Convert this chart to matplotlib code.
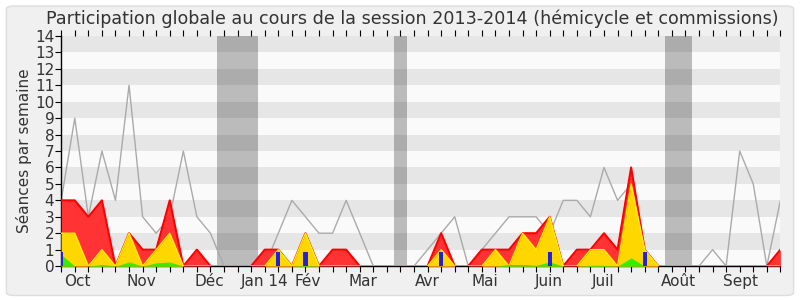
import numpy as np
import matplotlib.pyplot as plt
from matplotlib.patches import FancyBboxPatch

# semaines de la session (0 = début octobre 2013)
semaines = np.arange(54)

# séances totales de la semaine (ligne grise)
seances_total = [4, 9, 3, 7, 4, 11, 3, 2, 3, 7, 3, 2, 0, 0, 0, 0, 2, 4, 3, 2,
                 2, 4, 2, 0, 0, 0, 0, 1, 2, 3, 0, 1, 2, 3, 3, 3, 2, 4, 4, 3,
                 6, 4, 5, 0, 0, 0, 0, 0, 1, 0, 7, 5, 0, 4]
# présences (rouge), interventions (jaune), interventions longues (vert)
presences = [4, 4, 3, 4, 0, 2, 1, 1, 4, 0, 1, 0, 0, 0, 0, 1, 1, 0, 2, 0,
             1, 1, 0, 0, 0, 0, 0, 0, 2, 0, 0, 1, 1, 1, 2, 2, 3, 0, 1, 1,
             2, 1, 6, 1, 0, 0, 0, 0, 0, 0, 0, 0, 0, 1]
interventions = [2, 2, 0, 1, 0, 2, 0, 1, 2, 0, 0, 0, 0, 0, 0, 0, 1, 0, 2, 0,
                 0, 0, 0, 0, 0, 0, 0, 0, 1, 0, 0, 0, 1, 0, 2, 1, 3, 0, 0, 1,
                 1, 0, 5, 1, 0, 0, 0, 0, 0, 0, 0, 0, 0, 0]
longues = [0.7, 0, 0, 0.1, 0, 0.25, 0, 0.2, 0.25, 0, 0, 0, 0, 0, 0, 0, 0, 0, 0.05, 0,
           0, 0, 0, 0, 0, 0, 0, 0, 0, 0, 0, 0, 0, 0.1, 0.1, 0.05, 0.25, 0, 0, 0.05,
           0.05, 0, 0.5, 0, 0, 0, 0, 0, 0, 0, 0, 0, 0, 0]
# questions orales (barres bleues)
questions_sem = [0, 16, 18, 28, 36, 43]
questions_val = [0.87, 0.87, 0.87, 0.87, 0.87, 0.87]

# vacances parlementaires (début, fin en semaines)
vacances = [(11.5, 14.5), (24.5, 25.5), (44.5, 46.5)]

mois_pos = [1.2, 5.9, 10.9, 15.0, 18.2, 22.2, 27.0, 31.2, 35.9, 39.9, 45.5, 50.05]
mois_lab = ["Oct", "Nov", "Déc", "Jan 14", "Fév", "Mar", "Avr", "Mai", "Juin",
            "Juil", "Août", "Sept"]

fig = plt.figure(figsize=(8, 3), dpi=100)
fig.patch.set_facecolor("#ffffff")
fig.patches.append(FancyBboxPatch((0.008, 0.015), 0.984, 0.965, boxstyle="round,pad=0,rounding_size=0.01",
                                  transform=fig.transFigure, facecolor="#f0f0f0",
                                  edgecolor="#dddddd", lw=1, zorder=-10))

ax = fig.add_axes([0.0765, 0.113, 0.899, 0.767])
ax.set_facecolor("#fafafa")

# bandes horizontales
for y in range(1, 14, 2):
    ax.axhspan(y, y + 1, color="#e6e6e6", lw=0, zorder=0)
for a, b in vacances:
    ax.axvspan(a, b, color="black", alpha=0.25, lw=0, zorder=1)

ax.plot(semaines, seances_total, color="#aaaaaa", lw=1, zorder=2)

ax.fill_between(semaines, presences, color="#ff3333", lw=0, zorder=3)
ax.plot(semaines, presences, color="#ff0000", lw=1.5, zorder=3)
ax.fill_between(semaines, interventions, color="#ffd700", lw=0, zorder=4)
ax.plot(semaines, interventions, color="#ffee00", lw=1, zorder=4)
ax.fill_between(semaines, longues, color="#33ee00", lw=0, zorder=5)
ax.bar(questions_sem, questions_val, width=0.32, color="#2222dd", zorder=6)

ax.set_xlim(0, 53)
ax.set_ylim(0, 14)
ax.set_yticks(range(15))
ax.set_xticks(semaines, [""] * len(semaines))
ax.tick_params(axis="x", direction="out", length=4, width=0.8, top=True, labeltop=False)
ax.tick_params(axis="y", length=4, width=0.8, labelsize=11, colors="#333333", pad=1)
ax.tick_params(axis="both", color="black")

# étiquettes des mois
for p, lab in zip(mois_pos, mois_lab):
    ax.text(p, -0.035, lab, transform=ax.get_xaxis_transform(), ha="center", va="top",
            fontsize=11, color="#333333")

for s in ["top", "right"]:
    ax.spines[s].set_visible(False)
ax.spines["left"].set_linewidth(1)
ax.spines["bottom"].set_linewidth(1)

ax.set_ylabel("Séances par semaine", fontsize=11, color="#333333", labelpad=2)
fig.suptitle("Participation globale au cours de la session 2013-2014 (hémicycle et commissions)",
             fontsize=12.6, color="#333333", x=0.515, y=0.97)

fig.savefig("out.png", dpi=100, facecolor=fig.get_facecolor())
